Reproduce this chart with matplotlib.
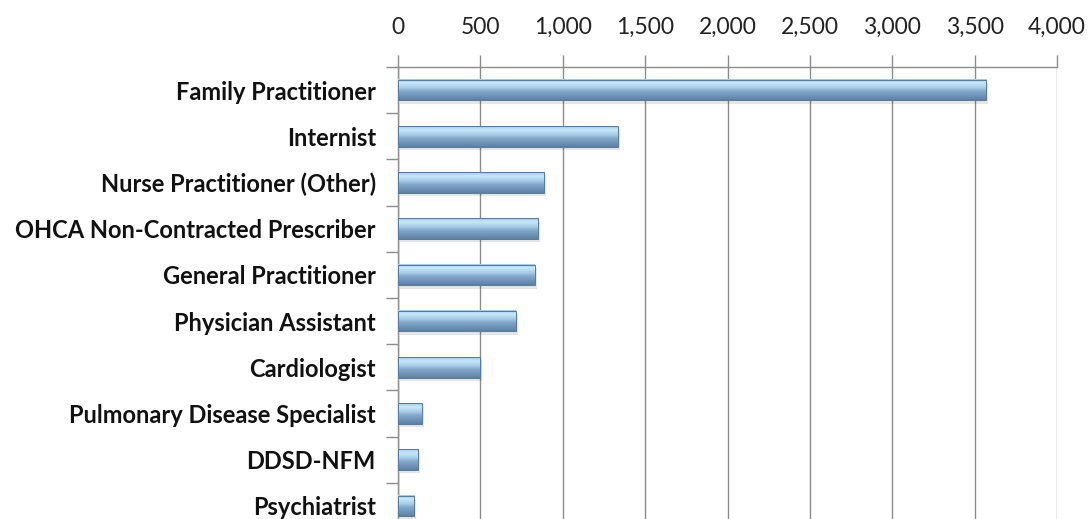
import matplotlib
matplotlib.use("Agg")
import matplotlib.pyplot as plt
import numpy as np
from matplotlib.colors import LinearSegmentedColormap
from matplotlib.ticker import FuncFormatter, MultipleLocator

categories = ["Family Practitioner", "Internist", "Nurse Practitioner (Other)",
              "OHCA Non-Contracted Prescriber", "General Practitioner",
              "Physician Assistant", "Cardiologist", "Pulmonary Disease Specialist",
              "DDSD-NFM", "Psychiatrist"]
values = [3570, 1335, 885, 848, 830, 715, 497, 145, 120, 100]

fig = plt.figure(figsize=(10.91, 5.19), dpi=100)
ax = fig.add_axes([398/1091, 1 - 529/519, (1057-398)/1091, (529-67)/519])

n = len(categories)
ys = np.arange(n)
bh = 0.45
cmap = LinearSegmentedColormap.from_list("bar", [
    (0.0, "#9fc8ea"), (0.18, "#c8e8fb"), (0.42, "#a6cbe6"),
    (0.58, "#84a9cb"), (1.0, "#5c81a5")])
grad = np.linspace(0, 1, 64).reshape(-1, 1)

for y, v in zip(ys, values):
    ax.barh(y + 0.07, v, height=bh, left=12, color="#000000", alpha=0.10, zorder=2, linewidth=0)
    ax.imshow(grad, extent=(0, v, y + bh/2, y - bh/2), cmap=cmap, aspect="auto", zorder=3,
              interpolation="bilinear")
    ax.barh(y, v, height=bh, facecolor="none", edgecolor="#55799c", linewidth=0.7, zorder=4)

ax.set_aspect("auto")
ax.set_xlim(0, 4000)
ax.set_ylim(n - 0.5, -0.5)

ax.xaxis.set_major_locator(MultipleLocator(500))
ax.xaxis.set_major_formatter(FuncFormatter(lambda x, p: f"{int(x):,}"))
ax.xaxis.tick_top()
ax.tick_params(axis="x", which="major", length=9, color="#8c8c8c", width=1, pad=12,
               labelsize=16.5, labelcolor="#222222")
ax.grid(axis="x", color="#8c8c8c", linewidth=1, zorder=0)
ax.set_axisbelow(True)

ax.set_yticks(ys)
ax.set_yticklabels(categories, fontsize=17, fontweight="bold", color="#111111")
ax.set_yticks(np.arange(n + 1) - 0.5, minor=True)
ax.tick_params(axis="y", which="major", length=0, pad=16)
ax.tick_params(axis="y", which="minor", length=9, color="#8c8c8c", width=1)

for s in ["right", "bottom"]:
    ax.spines[s].set_visible(False)
for s in ["top", "left"]:
    ax.spines[s].set_color("#8c8c8c")
    ax.spines[s].set_linewidth(1)

for lbl in ax.get_xticklabels() + ax.get_yticklabels():
    lbl.set_fontfamily(["Lato", "DejaVu Sans"])

fig.savefig("out.png", dpi=100)
